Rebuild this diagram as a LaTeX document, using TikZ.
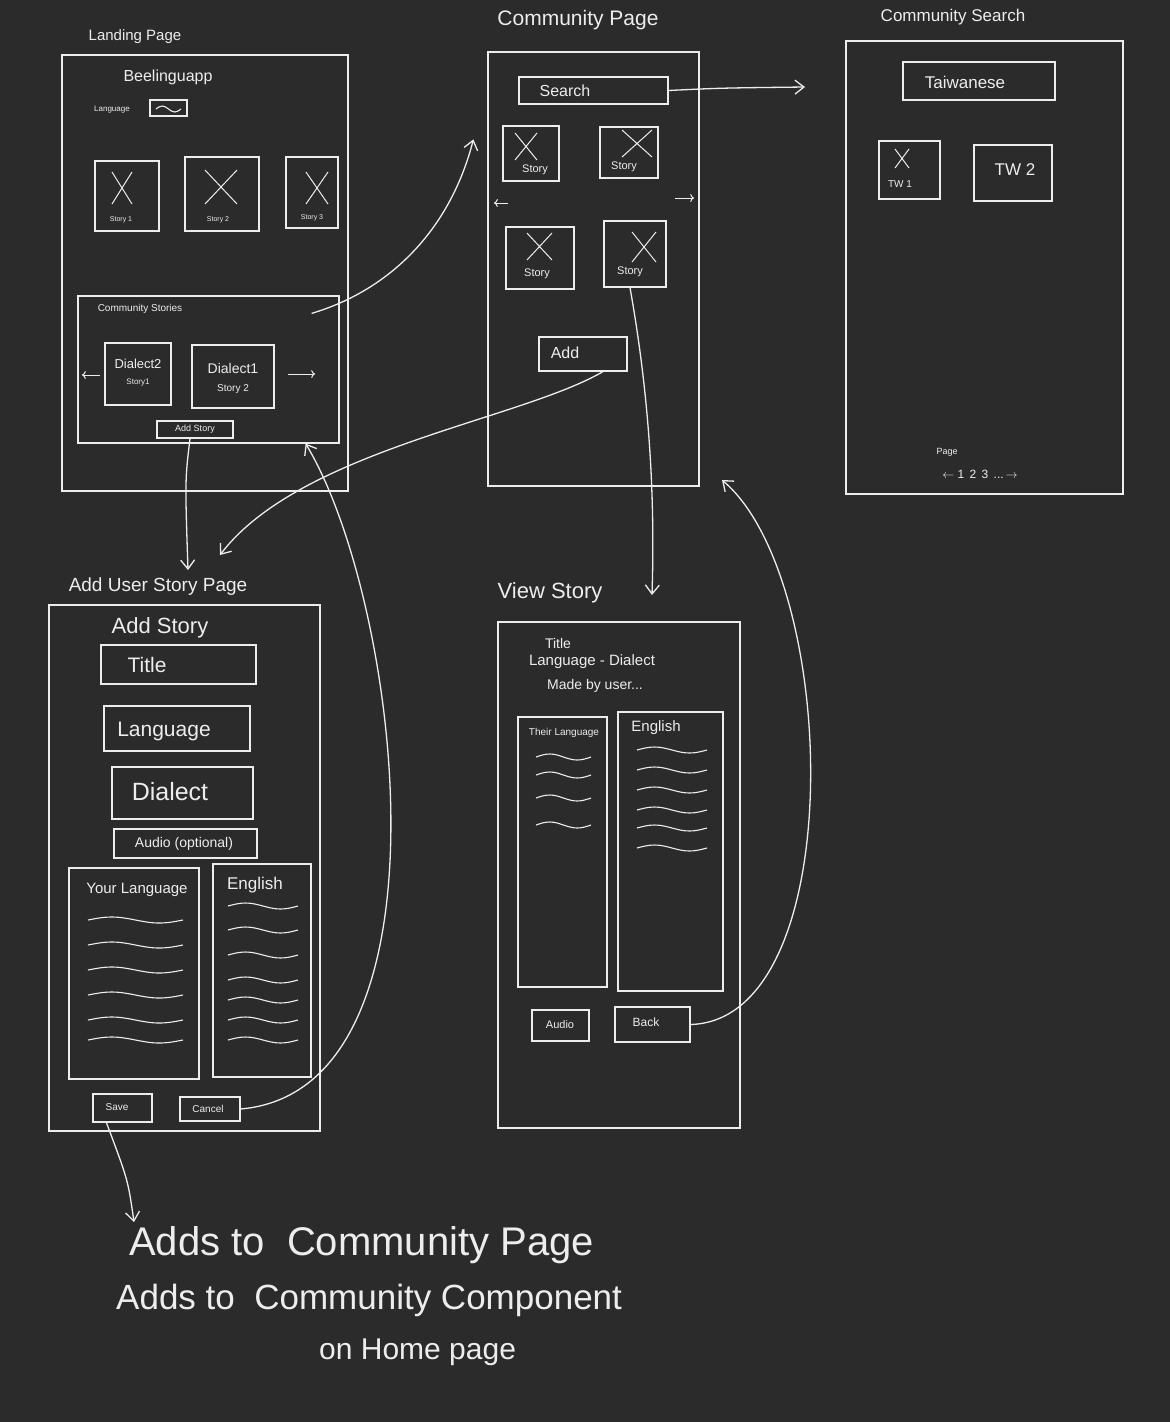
\documentclass[tikz,border=0pt]{standalone}
\usepackage{fontspec}
\setmainfont{Liberation Sans}
\usetikzlibrary{fit,arrows.meta}
\definecolor{bg}{HTML}{2B2B2B}
\definecolor{ink}{HTML}{EDEDED}
\newcommand{\fs}[1]{\fontsize{#1}{#1}\selectfont}
\tikzset{
  frm/.style={draw=ink,line width=1.2pt,inner sep=0pt},
  txt/.style={text=ink,inner sep=1pt},
  conn/.style={draw=ink,line width=1.3pt,-{Straight Barb[length=9pt,width=14pt]}},
  small/.style={draw=ink,line width=1pt,->},
  wv/.style={draw=ink,line width=1.1pt},
  xm/.style={draw=ink,line width=1pt}
}
\newcommand{\wave}[3]{\draw[wv] (#1,#2) sin ++(#3/4,-3) cos ++(#3/4,3) sin ++(#3/4,3) cos ++(#3/4,-3);}
\newcommand{\bx}[5]{\node[frm,fit={(#2,#3)(#4,#5)}] (#1) {};}
\newcommand{\xx}[4]{\draw[xm] (#1,#2) -- (#3,#4) (#1,#4) -- (#3,#2);}
\begin{document}
\begin{tikzpicture}[x=1pt,y=-1pt]
\useasboundingbox[fill=bg] (0,0) rectangle (1170,1422);
% Landing page
\node[txt] (t1) at (135,37) {\fs{15}Landing Page};
\bx{land}{62}{55}{348}{491}
\node[txt] at (168,77) {\fs{16}Beelinguapp};
\node[txt] at (112,110) {\fs{8}Language};
\bx{lsel}{150}{100}{187}{116}
\wave{156}{109}{25}
\bx{s1}{95}{161}{159}{231}\xx{112}{172}{132}{204}\node[txt] at (121,220){\fs{7}Story 1};
\bx{s2}{185}{157}{259}{231}\xx{205}{170}{237}{204}\node[txt] at (218,220){\fs{7}Story 2};
\bx{s3}{286}{157}{338}{228}\xx{306}{172}{328}{204}\node[txt] at (312,218){\fs{7}Story 3};
\bx{cstor}{78}{296}{339}{443}
\node[txt] at (140,309) {\fs{10}Community Stories};
\bx{d2}{105}{343}{171}{405}\node[txt,align=center] at (138,373){\fs{13}Dialect2\\[4pt]\fs{8}Story1};
\bx{d1}{192}{345}{274}{408}\node[txt,align=center] at (233,378){\fs{14}Dialect1\\[6pt]\fs{10}Story 2};
\coordinate (la1) at (100,375); \coordinate (la2) at (82,375);
\draw[small] (la1) -- (la2);
\coordinate (ra1) at (288,374); \coordinate (ra2) at (315,374);
\draw[small] (ra1) -- (ra2);
\bx{addst}{157}{421}{233}{438}\node[txt] at (195,429){\fs{9}Add Story};
% Community page
\node[txt] (t2) at (578,20) {\fs{21}Community Page};
\bx{comm}{488}{52}{699}{486}
\bx{search}{519}{77}{668}{104}\node[txt] at (565,91){\fs{16}Search};
\bx{c1}{503}{126}{559}{181}\xx{515}{133}{537}{160}\node[txt] at (535,170){\fs{11}Story};
\bx{c2}{600}{127}{658}{178}\xx{622}{130}{652}{157}\node[txt] at (624,167){\fs{11}Story};
\bx{c3}{506}{227}{574}{289}\xx{527}{233}{552}{260}\node[txt] at (537,274){\fs{11}Story};
\bx{c4}{604}{221}{666}{287}\xx{632}{232}{656}{262}\node[txt] at (630,272){\fs{11}Story};
\coordinate (ca1) at (508,203); \coordinate (ca2) at (494,203);
\draw[small] (ca1) -- (ca2);
\coordinate (cb1) at (675,198); \coordinate (cb2) at (694,198);
\draw[small] (cb1) -- (cb2);
\bx{cadd}{539}{337}{627}{371}\node[txt] at (565,353){\fs{16}Add};
% Community search
\node[txt] (t3) at (953,17) {\fs{17}Community Search};
\bx{csearch}{846}{41}{1123}{494}
\bx{tw}{903}{62}{1055}{100}\node[txt] at (965,82){\fs{17}Taiwanese};
\bx{tw1}{879}{141}{940}{199}\xx{895}{149}{909}{168}\node[txt] at (900,184){\fs{10}TW 1};
\bx{tw2}{974}{145}{1052}{201}\node[txt] at (1015,170){\fs{17}TW 2};
\node[txt] at (947,452){\fs{9}Page};
\node[txt] at (980,474){\fs{12}$\leftarrow$ 1 \,2 \,3 \,...\,$\rightarrow$};
% Add user story page
\node[txt] (t4) at (158,587) {\fs{19}Add User Story Page};
\bx{addp}{49}{605}{320}{1131}
\node[txt] at (160,628){\fs{22}Add Story};
\bx{ttl}{101}{645}{256}{684}\node[txt] at (147,665){\fs{21}Title};
\bx{lang}{104}{706}{250}{751}\node[txt] at (164,731){\fs{21}Language};
\bx{dial}{112}{767}{253}{819}\node[txt] at (170,792){\fs{25}Dialect};
\bx{aud}{114}{829}{257}{858}\node[txt] at (184,844){\fs{14}Audio (optional)};
\bx{yl}{69}{868}{199}{1079}\node[txt] at (137,890){\fs{15}Your Language};
\foreach \y in {920,945,970,995,1020,1040} {\wave{88}{\y}{95}}
\bx{en}{213}{864}{311}{1077}\node[txt] at (255,885){\fs{17}English};
\foreach \y in {906,930,955,980,1000,1020,1040} {\wave{228}{\y}{70}}
\bx{save}{93}{1094}{152}{1122}\node[txt] at (117,1107){\fs{10}Save};
\bx{cancel}{180}{1097}{240}{1121}\node[txt] at (208,1109){\fs{10}Cancel};
% View story
\node[txt] (t5) at (550,593) {\fs{22}View Story};
\bx{view}{498}{622}{740}{1128}
\node[txt] at (558,643){\fs{14}Title};
\node[txt] at (592,662){\fs{15}Language - Dialect};
\node[txt] at (595,686){\fs{14}Made by user...};
\bx{their}{518}{717}{607}{987}\node[txt] at (564,733){\fs{10}Their Language};
\foreach \y in {757,775,798,825} {\wave{536}{\y}{55}}
\bx{ven}{618}{712}{723}{991}\node[txt] at (656,728){\fs{15}English};
\foreach \y in {750,770,790,810,828,848} {\wave{637}{\y}{70}}
\bx{vaud}{532}{1010}{589}{1041}\node[txt] at (560,1025){\fs{11}Audio};
\bx{back}{615}{1007}{690}{1042}\node[txt] at (646,1022){\fs{12}Back};
% bottom text
\node[txt,anchor=west] (n1) at (128,1245) {\fs{40}Adds to \ Community Page};
\node[txt,anchor=west] (n2) at (115,1300) {\fs{35}Adds to \ Community Component};
\node[txt,anchor=west] (n3) at (318,1352) {\fs{30}on Home page};
% connectors
\draw[conn] ([xshift=-28pt,yshift=-18pt]cstor.north east) .. controls (390,290) and (450,230) .. ([xshift=-14pt,yshift=-88pt]comm.north west);
\draw[conn] (search.east) .. controls (720,88) .. (805,87);
\draw[conn] ([xshift=-5pt]addst.south) .. controls (185,480) .. (188,570);
\draw[conn] ([xshift=20pt]cadd.south) .. controls (520,420) and (300,450) .. (220,555);
\draw[conn] ([xshift=-5pt]c4.south) .. controls (650,400) and (655,500) .. (652,595);
\draw[conn] (cancel.east) .. controls (460,1090) and (400,600) .. ([xshift=-34pt]cstor.south east);
\draw[conn] (back.east) .. controls (850,1020) and (840,580) .. (722,480);
\draw[conn] ([xshift=14pt]save.south west) .. controls (128,1180) .. (134,1222);
\end{tikzpicture}
\end{document}
